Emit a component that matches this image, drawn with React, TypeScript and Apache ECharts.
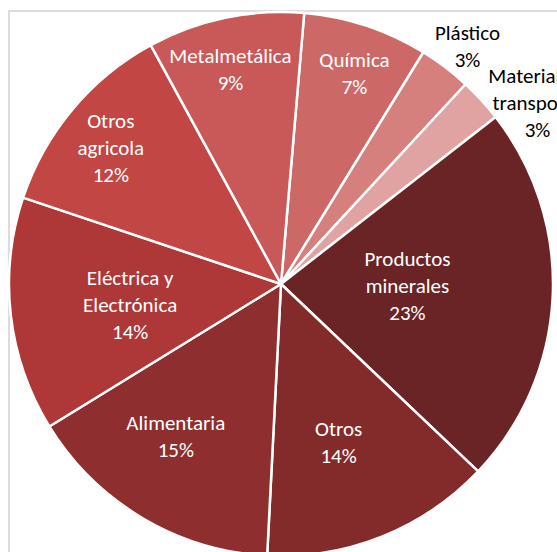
import React, { useEffect, useRef } from "react";
import * as echarts from "echarts";

const categories = [
  "Química",
  "Plástico",
  "Material de\ntransporte",
  "Productos\nminerales",
  "Otros",
  "Alimentaria",
  "Eléctrica y\nElectrónica",
  "Otros\nagricola",
  "Metalmetálica",
];
const values = [7.4, 3.1, 2.6, 22.6, 13.7, 15.4, 13.9, 11.9, 9.3];
const colors = [
  "#CC6967",
  "#D5807D",
  "#E0A3A2",
  "#6B2425",
  "#832A2A",
  "#8E2E2E",
  "#AD3837",
  "#C14644",
  "#C85958",
];
const labelColors = ["#FFFFFF", "#000000", "#000000", "#FFFFFF", "#FFFFFF", "#FFFFFF", "#FFFFFF", "#FFFFFF", "#FFFFFF"];
// [radial fraction of radius, angular offset in degrees] for each label
const labelPlacement = [
  [0.82, 1],
  [1.11, 1],
  [1.155, 7.3],
  [0.465, -2],
  [0.62, 1.8],
  [0.68, 4],
  [0.56, -1.4],
  [0.8, -1.4],
  [0.81, -1.4],
];

const CX = 281;
const CY = 284;
const R = 272;
const START = 4.9; // degrees clockwise from 12 o'clock

export default function App() {
  const ref = useRef<HTMLDivElement>(null);
  useEffect(() => {
    if (!ref.current) return;
    const chart = echarts.init(ref.current, null, { renderer: "svg" });
    const total = values.reduce((a, b) => a + b, 0);
    const cum: number[] = [];
    let acc = 0;
    values.forEach((v) => {
      cum.push(acc);
      acc += v;
    });
    chart.setOption({
      animation: false,
      backgroundColor: "#FFFFFF",
      graphic: [
        {
          type: "rect",
          shape: { x: 9, y: 11, width: 700, height: 700 },
          style: { fill: "none", stroke: "#DCDCDC", lineWidth: 2 },
          z: -1,
          silent: true,
        },
      ],
      series: [
        {
          type: "pie",
          center: [CX, CY],
          radius: [0, R],
          startAngle: 90 - START,
          clockwise: true,
          avoidLabelOverlap: false,
          labelLine: { show: false },
          itemStyle: { borderColor: "#FFFFFF", borderWidth: 2.5 },
          label: {
            show: true,
            position: "inside",
            fontFamily: "Carlito, Calibri, Lato, sans-serif",
            fontSize: 21,
            lineHeight: 27,
            align: "center",
            formatter: (p: any) => `${p.name}\n${Math.round((p.value / total) * 100)}%`,
          },
          labelLayout: (params: any) => {
            const i = params.dataIndex;
            const [f, off] = labelPlacement[i];
            const mid = START + ((cum[i] + values[i] / 2) / total) * 360 + off;
            const a = (mid * Math.PI) / 180;
            return {
              x: CX + f * R * Math.sin(a),
              y: CY - f * R * Math.cos(a),
              align: "center",
              verticalAlign: "middle",
            };
          },
          data: categories.map((name, i) => ({
            name,
            value: values[i],
            itemStyle: { color: colors[i] },
            label: { color: labelColors[i] },
          })),
        },
      ],
    });
    return () => chart.dispose();
  }, []);
  return (
    <div
      ref={ref}
      style={{ position: "absolute", left: 0, top: 0, width: 557, height: 552 }}
    />
  );
}
